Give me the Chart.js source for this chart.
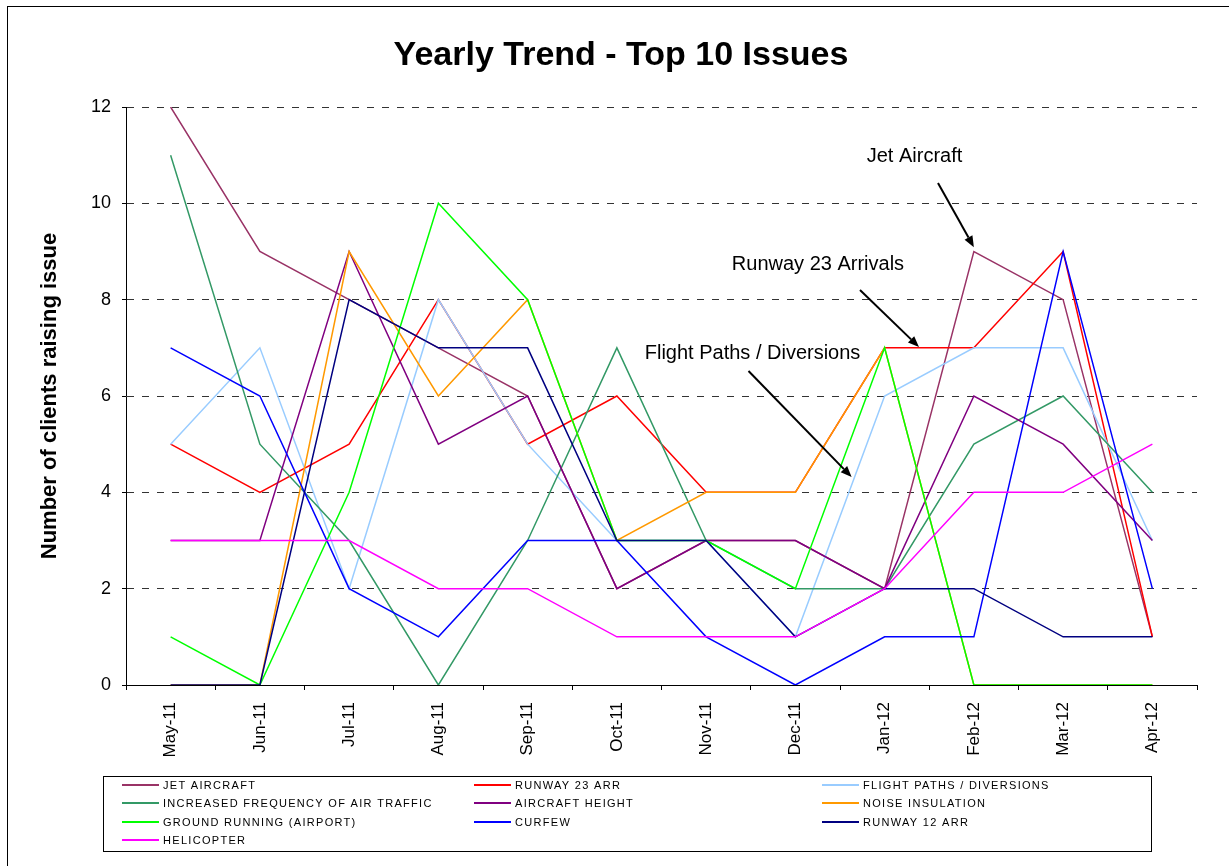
<!DOCTYPE html>
<html>
<head>
<meta charset="utf-8">
<script src="https://cdn.jsdelivr.net/npm/chart.js@4/dist/chart.umd.min.js"></script>
<style>
html,body{margin:0;padding:0;background:#fff;}
#wrap{width:1229px;height:866px;position:relative;}
</style>
</head>
<body>
<div id="wrap"><canvas id="c" width="1229" height="866"></canvas></div>
<script>
// ---- data ----
const categories = ['May-11','Jun-11','Jul-11','Aug-11','Sep-11','Oct-11','Nov-11','Dec-11','Jan-12','Feb-12','Mar-12','Apr-12'];
const jetAircraft     = [12, 9, 8, 7, 6, 2, 3, 3, 2, 9, 8, 1];
const runway23Arr     = [5, 4, 5, 8, 5, 6, 4, 4, 7, 7, 9, 1];
const flightPaths     = [5, 7, 2, 8, 5, 3, 3, 1, 6, 7, 7, 3];
const increasedFreq   = [11, 5, 3, 0, 3, 7, 3, 2, 2, 5, 6, 4];
const aircraftHeight  = [3, 3, 9, 5, 6, 2, 3, 3, 2, 6, 5, 3];
const noiseInsulation = [0, 0, 9, 6, 8, 3, 4, 4, 7, 0, 0, 0];
const groundRunning   = [1, 0, 4, 10, 8, 3, 3, 2, 7, 0, 0, 0];
const curfew          = [7, 6, 2, 1, 3, 3, 1, 0, 1, 1, 9, 2];
const runway12Arr     = [0, 0, 8, 7, 7, 3, 3, 1, 2, 2, 1, 1];
const helicopter      = [3, 3, 3, 2, 2, 1, 1, 1, 2, 4, 4, 5];
const seriesNames = ['JET AIRCRAFT','RUNWAY 23 ARR','FLIGHT PATHS / DIVERSIONS','INCREASED FREQUENCY OF AIR TRAFFIC','AIRCRAFT HEIGHT','NOISE INSULATION','GROUND RUNNING (AIRPORT)','CURFEW','RUNWAY 12 ARR','HELICOPTER'];
const yTickMin = 0, yTickMax = 12, yTickStep = 2;
const chartTitle = 'Yearly Trend - Top 10 Issues';
const yAxisTitle = 'Number of clients raising issue';

// ---- styles ----
const seriesValues = [jetAircraft, runway23Arr, flightPaths, increasedFreq, aircraftHeight, noiseInsulation, groundRunning, curfew, runway12Arr, helicopter];
const seriesColors = ['#993366','#ff0000','#99ccff','#339966','#800080','#ff9900','#00ff00','#0000ff','#000080','#ff00ff'];
const FONT = '"Liberation Sans", Arial, Helvetica, sans-serif';
Chart.defaults.font.family = FONT;
Chart.defaults.color = '#000';

// annotation placement in data units (category index, value)
const annotations = [
  {text:'Jet Aircraft', at:[8.335, 10.86], from:[8.598, 10.42], to:[9.0, 9.09]},
  {text:'Runway 23 Arrivals', at:[7.253, 8.615], from:[7.724, 8.2], to:[8.385, 7.017]},
  {text:'Flight Paths / Diversions', at:[6.52, 6.768], from:[6.475, 6.519], to:[7.63, 4.318]}
];

const datasets = seriesValues.map((vals, i) => ({
  label: seriesNames[i],
  data: vals,
  borderColor: seriesColors[i],
  backgroundColor: seriesColors[i],
  borderWidth: 1.5,
  pointRadius: 0,
  pointHoverRadius: 0,
  tension: 0,
  fill: false,
  order: seriesValues.length - i
}));

const decorPlugin = {
  id: 'decor',
  beforeDraw(chart) {
    const ctx = chart.ctx;
    ctx.save();
    ctx.fillStyle = '#fff';
    ctx.fillRect(0, 0, chart.width, chart.height);
    ctx.strokeStyle = '#000';
    ctx.lineWidth = 1;
    ctx.strokeRect(7.5, 6.5, chart.width + 20, chart.height + 20);
    ctx.restore();
  },
  afterDraw(chart) {
    const ctx = chart.ctx;
    const xs = chart.scales.x, ys = chart.scales.y;
    ctx.save();
    // title
    ctx.fillStyle = '#000';
    ctx.font = 'bold 34px ' + FONT;
    ctx.textAlign = 'center';
    ctx.textBaseline = 'alphabetic';
    ctx.fillText(chartTitle, 621, 65);

    // annotations
    ctx.font = '20px ' + FONT;
    ctx.textAlign = 'center';
    annotations.forEach(a => {
      const tx = xs.getPixelForValue(a.at[0]), ty = ys.getPixelForValue(a.at[1]);
      ctx.fillStyle = '#000';
      ctx.fillText(a.text, tx, ty);
      const x1 = xs.getPixelForValue(a.from[0]), y1 = ys.getPixelForValue(a.from[1]);
      const x2 = xs.getPixelForValue(a.to[0]), y2 = ys.getPixelForValue(a.to[1]);
      const ang = Math.atan2(y2 - y1, x2 - x1);
      const hl = 11, hw = 4.5;
      const bx = x2 - hl * Math.cos(ang), by = y2 - hl * Math.sin(ang);
      ctx.strokeStyle = '#000';
      ctx.lineWidth = 2;
      ctx.beginPath();
      ctx.moveTo(x1, y1);
      ctx.lineTo(bx, by);
      ctx.stroke();
      ctx.beginPath();
      ctx.moveTo(x2, y2);
      ctx.lineTo(bx + hw * Math.sin(ang), by - hw * Math.cos(ang));
      ctx.lineTo(bx - hw * Math.sin(ang), by + hw * Math.cos(ang));
      ctx.closePath();
      ctx.fill();
    });

    // legend
    const lx = 103.5, ly = 776.5, lw = 1048, lh = 75;
    ctx.strokeStyle = '#000';
    ctx.lineWidth = 1;
    ctx.strokeRect(lx, ly, lw, lh);
    const colX = [122, 474, 822];
    const rowY = [785, 803, 822, 840];
    ctx.font = '11px ' + FONT;
    ctx.textAlign = 'left';
    ctx.textBaseline = 'middle';
    try { ctx.letterSpacing = '1.3px'; } catch (e) {}
    chart.data.datasets.forEach((ds, i) => {
      const c = colX[i % 3], r = rowY[Math.floor(i / 3)];
      ctx.strokeStyle = ds.borderColor;
      ctx.lineWidth = 2;
      ctx.beginPath();
      ctx.moveTo(c, r);
      ctx.lineTo(c + 37, r);
      ctx.stroke();
      ctx.fillStyle = '#000';
      ctx.fillText(ds.label, c + 41, r + 0.5);
    });
    ctx.restore();
  }
};

new Chart(document.getElementById('c'), {
  type: 'line',
  data: { labels: categories, datasets },
  plugins: [decorPlugin],
  options: {
    responsive: false,
    animation: false,
    devicePixelRatio: 1,
    layout: { padding: { left: 0, right: 32, top: 107, bottom: 0 } },
    plugins: {
      legend: { display: false },
      title: { display: false },
      tooltip: { enabled: false }
    },
    scales: {
      x: {
        type: 'category',
        offset: true,
        grid: { display: true, drawOnChartArea: false, drawTicks: true, tickLength: 5, color: '#000', offset: true },
        border: { display: true, color: '#000', width: 1 },
        ticks: { autoSkip: false, maxRotation: 90, minRotation: 90, padding: 12, color: '#000', font: { size: 17 } },
        afterFit: s => { s.height = 181; }
      },
      y: {
        min: yTickMin,
        max: yTickMax,
        ticks: { stepSize: yTickStep, padding: 11, color: '#000', font: { size: 18 } },
        grid: {
          color: c => (c.tick && c.tick.value === 0) ? 'rgba(0,0,0,0)' : '#333',
          tickColor: '#000',
          tickLength: 4,
          lineWidth: 1
        },
        border: { display: true, color: '#000', width: 1, dash: [7, 8] },
        title: {
          display: true,
          text: yAxisTitle,
          color: '#000',
          font: { size: 22, weight: 'bold' },
          padding: { top: 37, bottom: 0 }
        },
        afterFit: s => { s.width = 126; }
      }
    }
  }
});
</script>
</body>
</html>
